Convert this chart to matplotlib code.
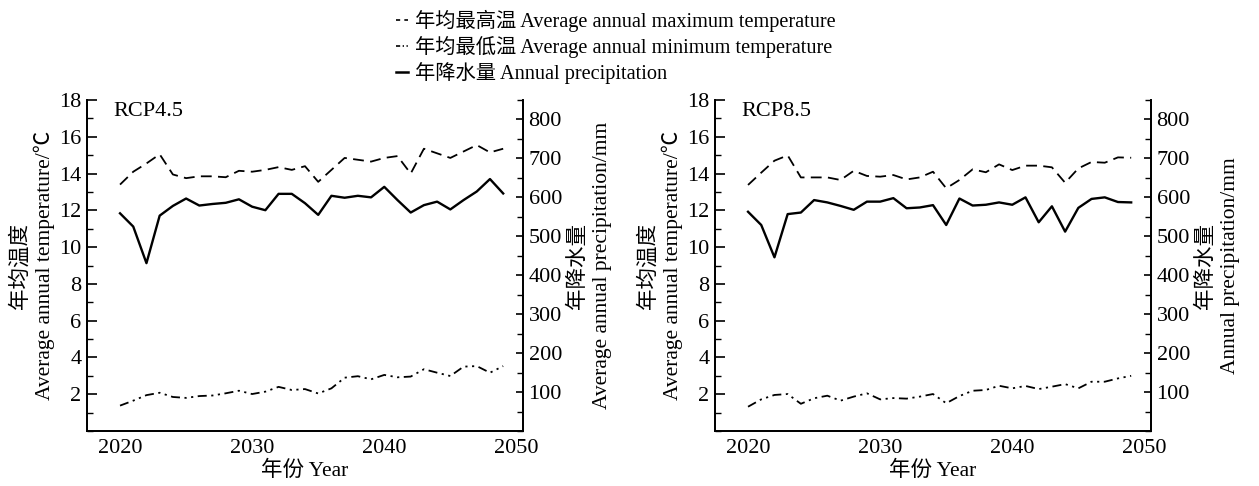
import numpy as np
import matplotlib
matplotlib.use("Agg")
import matplotlib.pyplot as plt
from matplotlib.lines import Line2D
from matplotlib.ticker import MultipleLocator

plt.rcParams['font.family'] = ['Liberation Serif', 'Noto Sans CJK SC']
plt.rcParams['axes.unicode_minus'] = False

years = list(range(2020, 2050))

# RCP4.5
tmax_45 = [13.4, 14.1, 14.55, 15.05, 13.95, 13.75, 13.85, 13.85, 13.8, 14.15,
           14.1, 14.2, 14.35, 14.2, 14.4, 13.55, 14.2, 14.85, 14.75, 14.65,
           14.85, 14.95, 14.0, 15.35, 15.1, 14.85, 15.2, 15.55, 15.15, 15.35]
tmin_45 = [1.38, 1.65, 1.95, 2.08, 1.85, 1.8, 1.9, 1.93, 2.05, 2.19,
           2.01, 2.14, 2.4, 2.23, 2.28, 2.04, 2.32, 2.9, 2.98, 2.81,
           3.05, 2.92, 2.96, 3.36, 3.17, 2.99, 3.5, 3.53, 3.17, 3.53]
prec_45 = [559, 525, 431, 553, 578, 597, 579, 583, 586, 595,
           576, 567, 609, 609, 585, 555, 604, 599, 604, 600,
           627, 593, 561, 580, 589, 569, 593, 615, 647, 610]

# RCP8.5
tmax_85 = [13.38, 14.05, 14.7, 14.99, 13.79, 13.79, 13.79, 13.65, 14.15, 13.87,
           13.83, 13.92, 13.68, 13.79, 14.1, 13.2, 13.65, 14.23, 14.07, 14.5,
           14.19, 14.43, 14.43, 14.34, 13.5, 14.28, 14.63, 14.59, 14.88, 14.86]
tmin_85 = [1.32, 1.72, 1.96, 2.01, 1.48, 1.78, 1.92, 1.65, 1.87, 2.05,
           1.72, 1.79, 1.76, 1.87, 2.01, 1.51, 1.9, 2.19, 2.23, 2.46,
           2.32, 2.45, 2.28, 2.41, 2.55, 2.32, 2.68, 2.68, 2.86, 3.0]
prec_85 = [563, 529, 446, 557, 561, 593, 587, 578, 568, 589,
           589, 598, 572, 574, 580, 529, 597, 579, 581, 587,
           581, 600, 536, 577, 512, 573, 596, 600, 588, 587]

panels = ["RCP4.5", "RCP8.5"]
right_labels = ["年降水量\nAverage annual precipitation/mm",
                "年降水量\nAnnual precipitation/mm"]
labels = ["年均最高温 Average annual maximum temperature",
          "年均最低温 Average annual minimum temperature",
          "年降水量 Annual precipitation"]

fs = 16
lfs = 15.5
fig = plt.figure(figsize=(12.59, 4.86), dpi=100)
W, H = 1259, 486
boxes = [(87, 523), (715, 1151)]
series = [(tmax_45, tmin_45, prec_45), (tmax_85, tmin_85, prec_85)]

for i, (x0, x1) in enumerate(boxes):
    ax = fig.add_axes([x0 / W, (H - 431) / H, (x1 - x0) / W, 331 / H])
    ax2 = ax.twinx()
    tmax, tmin, prec = series[i]
    ax.plot(years, tmax, color='black', lw=1.3, dashes=(6, 3.5))
    ax.plot(years, tmin, color='black', lw=1.3,
            dashes=(5, 2.5, 1.2, 2.5, 1.2, 2.5))
    ax2.plot(years, prec, color='black', lw=1.7)

    ax.set_xlim(2017.5, 2050.5)
    ax.set_ylim(0, 18)
    ax2.set_ylim(0, 850)
    ax.set_xticks([2020, 2030, 2040, 2050])
    ax.set_yticks(np.arange(2, 19, 2))
    ax.yaxis.set_minor_locator(MultipleLocator(1))
    ax2.set_yticks(np.arange(100, 801, 100))
    ax2.yaxis.set_minor_locator(MultipleLocator(50))

    for a in (ax, ax2):
        a.spines['top'].set_visible(False)
        for s in a.spines.values():
            s.set_linewidth(1.3)
    ax.tick_params(axis='x', length=0, pad=6, labelsize=fs)
    ax.tick_params(axis='y', which='major', direction='in', length=7,
                   width=1.2, labelsize=fs, pad=4)
    ax.tick_params(axis='y', which='minor', direction='in', length=4, width=1.0)
    ax2.tick_params(axis='y', which='major', direction='in', length=5,
                    width=1.2, labelsize=fs, pad=4)
    ax2.tick_params(axis='y', which='minor', direction='in', length=4, width=1.0)

    ax.set_xlabel("年份 Year", fontsize=lfs, labelpad=2)
    ax.set_ylabel("年均温度\nAverage annual temperature/℃", fontsize=lfs,
                  labelpad=3, linespacing=1.15)
    ax2.set_ylabel(right_labels[i], fontsize=lfs, labelpad=4, linespacing=1.35)
    ax.text(0.06, 0.995, panels[i], transform=ax.transAxes, fontsize=fs,
            va='top', ha='left')

# short legend keys, as in the original
handles = [Line2D([], [], color='black', lw=1.2, dashes=(2.5, 2.5)),
           Line2D([], [], color='black', lw=1.2, dashes=(2.5, 1.5, 0.8, 1.5, 0.8, 1.5)),
           Line2D([], [], color='black', lw=1.8)]
fig.legend(handles, labels, loc='upper left', bbox_to_anchor=(384 / W, 1.005),
           frameon=False, fontsize=14.6, handlelength=0.6, handletextpad=0.35,
           labelspacing=0.2, borderpad=0.1)

fig.savefig("out.png", dpi=100)
